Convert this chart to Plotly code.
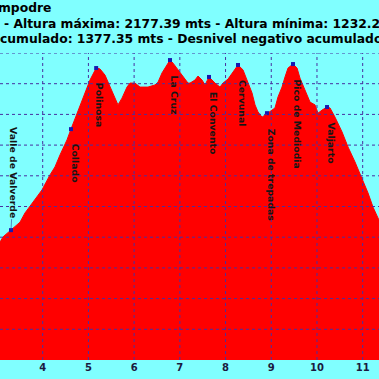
import plotly.graph_objects as go

# Profile data (km, m)
dist_km = [3.00, 3.066, 3.132, 3.307, 3.504, 3.613, 3.788, 3.985, 4.160, 4.269, 4.379, 4.532, 4.619,
           4.750, 4.882, 5.035, 5.170, 5.254, 5.363, 5.472, 5.582, 5.647, 5.735, 5.844, 5.910,
           6.019, 6.129, 6.304, 6.457, 6.523, 6.610, 6.719, 6.785, 6.851, 6.960, 7.069, 7.179,
           7.223, 7.332, 7.398, 7.485, 7.551, 7.638, 7.704, 7.770, 7.879, 7.945, 8.054, 8.163,
           8.273, 8.382, 8.491, 8.579, 8.645, 8.710, 8.798, 8.863, 8.907, 9.017, 9.082, 9.148,
           9.235, 9.301, 9.367, 9.476, 9.564, 9.629, 9.739, 9.848, 9.957, 10.023, 10.110, 10.220,
           10.285, 10.395, 10.548, 10.679, 10.832, 10.986, 11.117, 11.226, 11.357, 11.45]
elev_m = [1572, 1584, 1601, 1623, 1649, 1679, 1715, 1754, 1803, 1829, 1868, 1917, 1952,
          2004, 2057, 2112, 2151, 2148, 2128, 2089, 2053, 2031, 2053, 2089, 2102,
          2102, 2089, 2089, 2096, 2105, 2135, 2161, 2177, 2167, 2145, 2122, 2102,
          2102, 2112, 2125, 2112, 2096, 2122, 2112, 2102, 2089, 2102, 2115, 2138,
          2161, 2145, 2105, 2070, 2031, 2008, 1991, 1998, 2004, 2014, 2021, 2057,
          2089, 2122, 2151, 2164, 2151, 2118, 2079, 2040, 2031, 2004, 2014, 2024,
          2021, 1991, 1943, 1894, 1845, 1793, 1744, 1698, 1656, 1625]

# Waypoints
wp_names = ["Valle de Valverde", "Collado", "Polinosa", "La Cruz", "El Convento",
            "Cervunal", "Zona de trepadas", "Pico de Mediodia", "Valjarto"]
wp_km = [3.307, 4.619, 5.170, 6.785, 7.638, 8.273, 8.907, 9.476, 10.220]
wp_elev = [1623, 1952, 2151, 2177, 2122, 2161, 2004, 2164, 2024]

x_ticks = [4, 5, 6, 7, 8, 9, 10, 11]
y_grid = [1300, 1400, 1500, 1600, 1700, 1800, 1900, 2000, 2100, 2200]

title_1 = "mpodre"
title_2 = "- Altura máxima: 2177.39 mts - Altura mínima: 1232.25 mts"
title_3 = "cumulado: 1377.35 mts - Desnivel negativo acumulado: 1377.35 mts"

BG = "#80FFFF"
RED = "#FF0000"
GRID = "#4830A0"
FONT = "DejaVu Sans"

fig = go.Figure()
fig.add_trace(go.Scatter(x=dist_km, y=elev_m, mode="lines", fill="tozeroy",
                         fillcolor=RED, line=dict(color=RED, width=1),
                         hoverinfo="skip", showlegend=False))
fig.add_trace(go.Scatter(x=wp_km, y=wp_elev, mode="markers",
                         marker=dict(color="#1818B0", size=4, symbol="square"),
                         showlegend=False))

shapes = []
for xv in x_ticks:
    shapes.append(dict(type="line", xref="x", yref="paper", x0=xv, x1=xv, y0=0, y1=1,
                       line=dict(color=GRID, width=1, dash="dot"), layer="above"))
for yv in y_grid:
    shapes.append(dict(type="line", xref="paper", yref="y", x0=0, x1=1, y0=yv, y1=yv,
                       line=dict(color=GRID, width=1, dash="dot"), layer="above"))

annotations = []
for name, xk, ye in zip(wp_names, wp_km, wp_elev):
    if name == "Valle de Valverde":
        annotations.append(dict(x=xk, y=ye, xref="x", yref="y", text=name, textangle=90,
                                showarrow=True, arrowhead=0, arrowwidth=0.6, arrowcolor="#3030A0",
                                ax=3, ay=-58, standoff=0,
                                font=dict(family=FONT, size=9.3, color="#151515", weight="bold")))
    else:
        annotations.append(dict(x=xk, y=ye, xref="x", yref="y", text=name, textangle=90,
                                showarrow=False, xanchor="center", yanchor="top",
                                xshift=4, yshift=-13,
                                font=dict(family=FONT, size=9.3, color="#151515", weight="bold")))

tfont = dict(family=FONT, size=12.35, color="#000000", weight="bold")
annotations.append(dict(x=0, y=1, xref="paper", yref="paper", text=title_1, showarrow=False,
                        xanchor="left", yanchor="middle", xshift=-4, yshift=45, font=tfont))
annotations.append(dict(x=0, y=1, xref="paper", yref="paper", text=title_2, showarrow=False,
                        xanchor="left", yanchor="middle", xshift=2, yshift=29, font=tfont))
annotations.append(dict(x=0, y=1, xref="paper", yref="paper", text=title_3, showarrow=False,
                        xanchor="left", yanchor="middle", xshift=-2, yshift=14, font=tfont))

fig.update_layout(
    width=379, height=379,
    margin=dict(l=0, r=0, t=53, b=19, pad=0),
    paper_bgcolor=BG, plot_bgcolor=BG,
    shapes=shapes, annotations=annotations,
    xaxis=dict(range=[3.066, 11.357], tickvals=x_ticks, showgrid=False, zeroline=False,
               ticks="", showline=False,
               tickfont=dict(family=FONT, size=10, color="#1a1a40", weight="bold")),
    yaxis=dict(range=[1200, 2200], showgrid=False, zeroline=False, showticklabels=False,
               ticks="", showline=False),
)

fig.write_html("out.html", config={"displayModeBar": False},
               post_script="document.body.style.margin='0';document.body.style.padding='0';"
                           "document.body.style.overflow='hidden';")
